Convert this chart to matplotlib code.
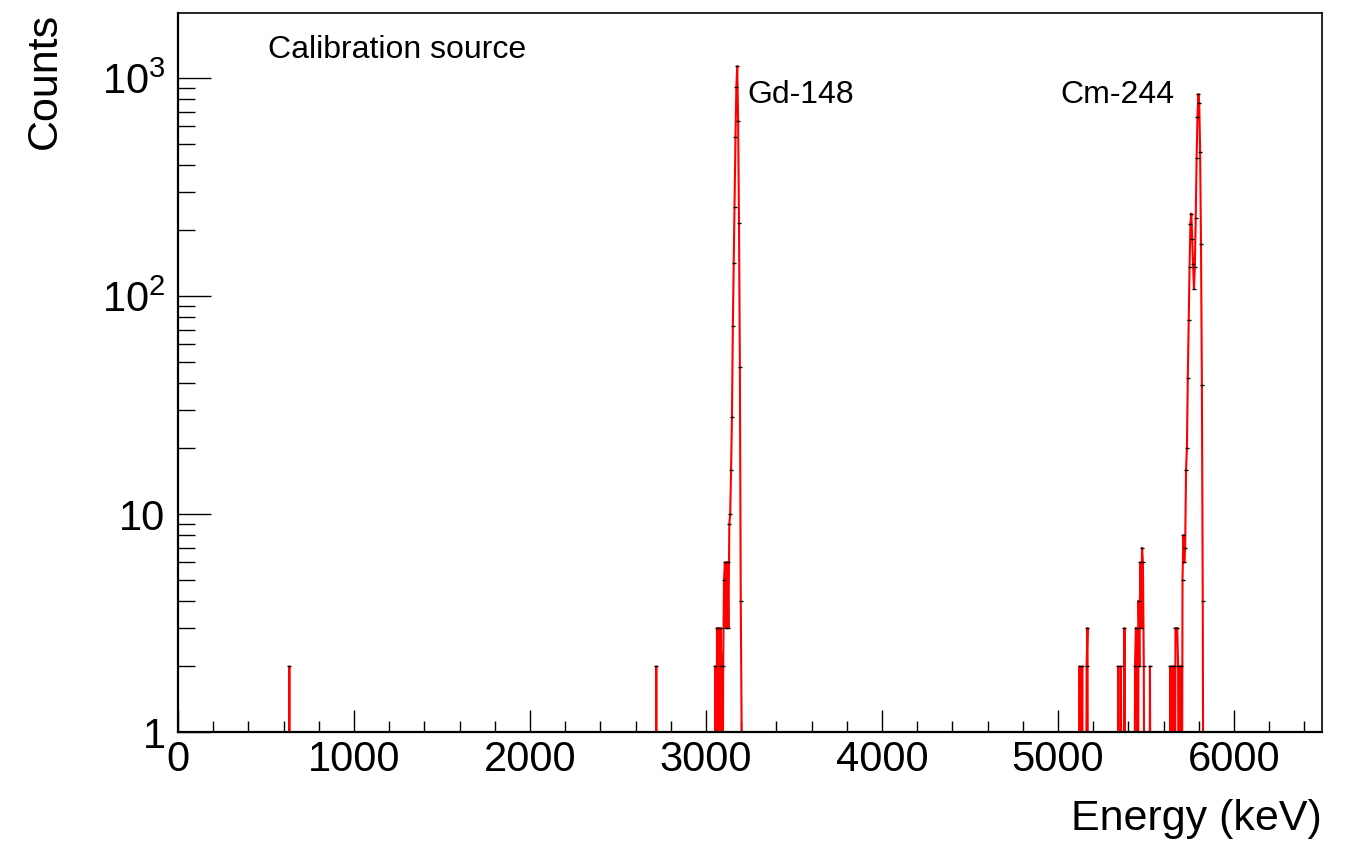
import numpy as np
import matplotlib
matplotlib.use("Agg")
import matplotlib.pyplot as plt
from matplotlib.ticker import FixedLocator, MultipleLocator, LogLocator, NullFormatter

plt.rcParams['font.family'] = ['Liberation Sans', 'DejaVu Sans']
plt.rcParams['mathtext.fontset'] = 'custom'
plt.rcParams['mathtext.rm'] = 'Liberation Sans'
plt.rcParams['mathtext.it'] = 'Liberation Sans:italic'

# ---- data: non-empty histogram bins (bin centre in keV, counts), 5 keV bins ----
bin_width = 5.0
energy_min, energy_max = 0.0, 6500.0

isolated_E = [632.5, 2717.5]
isolated_counts = [2, 2]

gd_E = [3052.5, 3057.5, 3062.5, 3067.5, 3072.5, 3077.5, 3082.5, 3087.5, 3092.5,
        3097.5, 3102.5, 3107.5, 3112.5, 3117.5, 3122.5, 3127.5, 3132.5, 3137.5,
        3142.5, 3147.5, 3152.5, 3157.5, 3162.5, 3167.5, 3172.5, 3177.5, 3182.5,
        3187.5, 3192.5, 3197.5, 3202.5]
gd_counts = [2, 0, 3, 0, 3, 0, 3, 2, 0,
             2, 5, 6, 3, 6, 6, 3, 9, 10,
             16, 28, 73, 142, 257, 536, 912, 1135, 637,
             217, 47, 4, 1]

mid_E = [5122.5, 5137.5, 5162.5, 5167.5,
         5342.5, 5357.5, 5377.5,
         5437.5, 5442.5, 5447.5, 5457.5, 5462.5, 5467.5, 5472.5, 5477.5,
         5482.5, 5487.5, 5522.5]
mid_counts = [2, 2, 2, 3,
              2, 2, 3,
              2, 3, 3, 4, 2, 6, 3, 7,
              6, 2, 2]

cm_E = [5637.5, 5647.5, 5657.5, 5667.5, 5672.5, 5677.5, 5682.5, 5692.5, 5697.5,
        5707.5, 5712.5, 5717.5, 5722.5, 5727.5, 5732.5, 5737.5, 5742.5, 5747.5,
        5752.5, 5757.5, 5762.5, 5767.5, 5772.5, 5777.5, 5782.5, 5787.5, 5792.5,
        5797.5, 5802.5, 5807.5, 5812.5, 5817.5, 5822.5]
cm_counts = [2, 2, 2, 3, 3, 3, 2, 2, 2,
             5, 8, 6, 7, 16, 20, 42, 78, 136,
             215, 239, 183, 140, 108, 136, 228, 428, 662,
             845, 765, 459, 173, 39, 4]

labels_text = ["Calibration source", "Gd-148", "Cm-244"]
x_label = "Energy (keV)"
y_label = "Counts"

# ---- build full histogram ----
nbins = int(round((energy_max - energy_min) / bin_width))
centers = energy_min + bin_width * (np.arange(nbins) + 0.5)
counts = np.zeros(nbins)
for E_list, c_list in [(isolated_E, isolated_counts), (gd_E, gd_counts),
                       (mid_E, mid_counts), (cm_E, cm_counts)]:
    for e, c in zip(E_list, c_list):
        counts[int((e - energy_min) // bin_width)] = c

plot_counts = np.where(counts > 0, counts, 0.05)

fig = plt.figure(figsize=(13.45, 8.41), dpi=100)
ax = fig.add_axes([178/1345, 1-732/841, 1144/1345, 719/841])

ax.plot(centers, plot_counts, color='red', lw=1.5, zorder=2)
nz = counts > 0
ax.plot(centers[nz], counts[nz], ls='none', marker='_', ms=3, mew=1.0,
        color='black', zorder=3)

ax.set_yscale('log')
ax.set_xlim(energy_min, energy_max)
ax.set_ylim(1, 1987)

ax.xaxis.set_major_locator(MultipleLocator(1000))
ax.xaxis.set_minor_locator(MultipleLocator(200))
ax.yaxis.set_major_locator(FixedLocator([1, 10, 100, 1000]))
ax.yaxis.set_minor_locator(LogLocator(base=10, subs=np.arange(2, 10)))
ax.yaxis.set_minor_formatter(NullFormatter())
ax.set_yticklabels(['1', '10', r'$10^{2}$', r'$10^{3}$'])

ax.tick_params(axis='both', which='both', direction='in', top=False, right=False,
               labelsize=30, width=1.0, color='black')
ax.tick_params(axis='y', which='major', length=24, pad=9)
ax.tick_params(axis='y', which='minor', length=12)
ax.tick_params(axis='x', which='major', length=16, pad=6)
ax.tick_params(axis='x', which='minor', length=8)

for s in ['left', 'bottom']:
    ax.spines[s].set_linewidth(1.6)
for s in ['top', 'right']:
    ax.spines[s].set_linewidth(1.2)

ax.set_xlabel(x_label, fontsize=31, loc='right')
ax.set_ylabel(y_label, fontsize=31, loc='top')
ax.xaxis.set_label_coords(1.0, -0.093)
ax.yaxis.set_label_coords(-0.099, 1.0)

ax.text(0.0787, 0.948, labels_text[0], transform=ax.transAxes, fontsize=23,
        ha='left', va='center')
ax.text(0.498, 0.886, labels_text[1], transform=ax.transAxes, fontsize=23,
        ha='left', va='center')
ax.text(0.771, 0.886, labels_text[2], transform=ax.transAxes, fontsize=23,
        ha='left', va='center')

fig.savefig('out.png', dpi=100)
